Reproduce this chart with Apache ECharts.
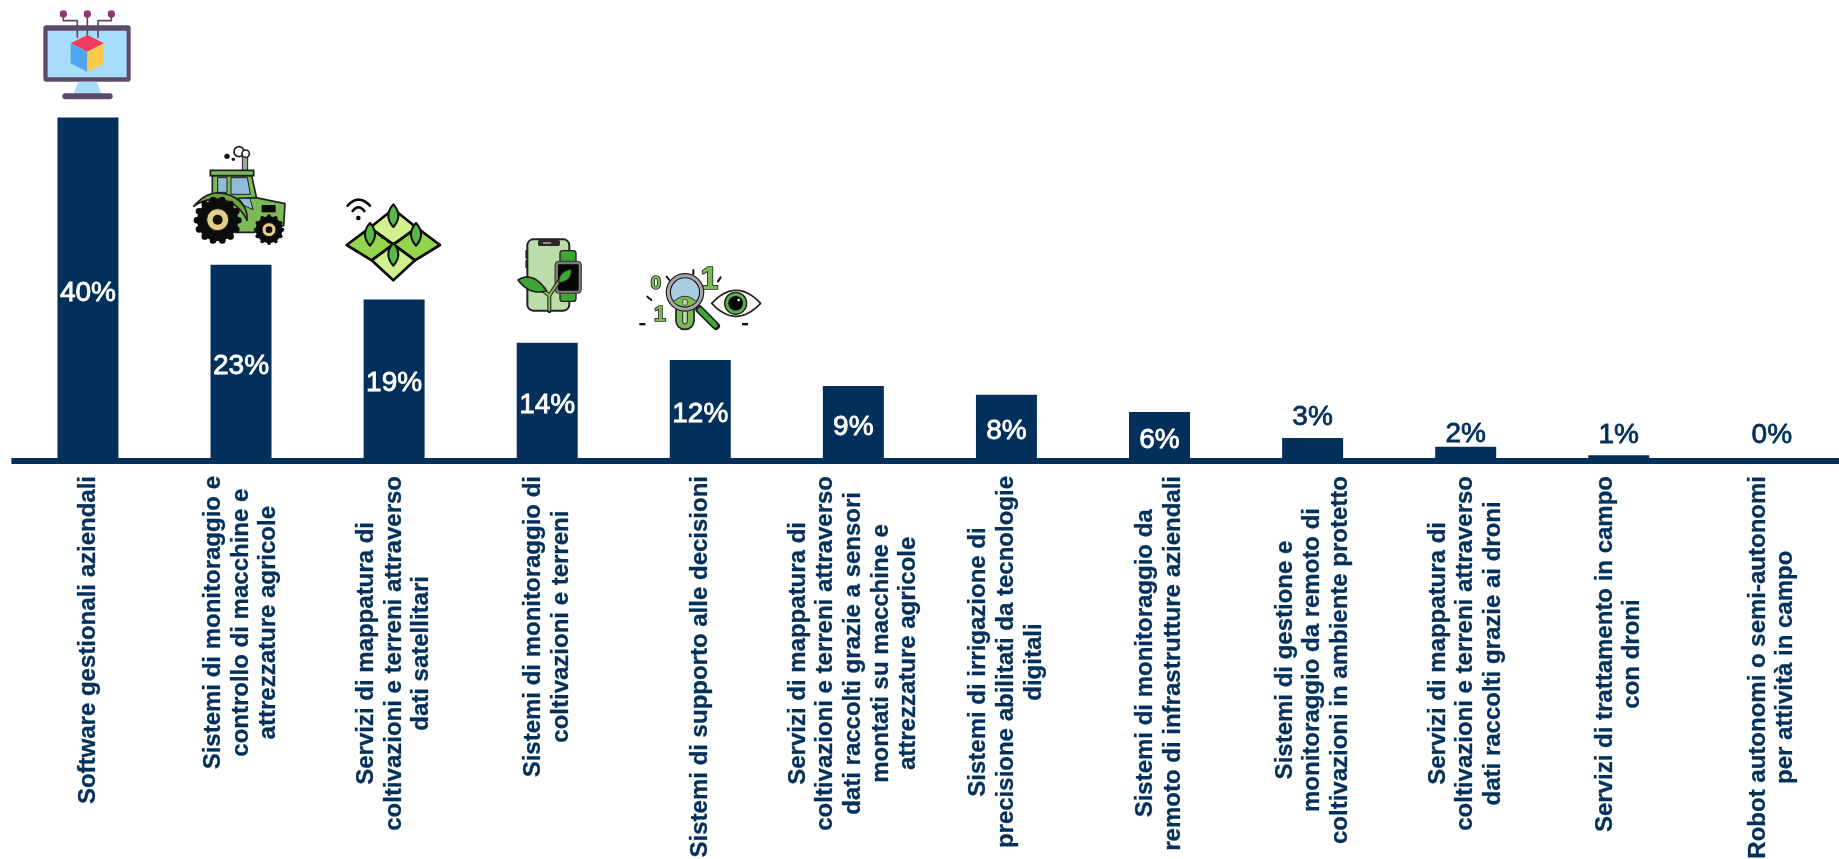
<!DOCTYPE html>
<html lang="it">
<head>
<meta charset="utf-8">
<title>Soluzioni digitali in agricoltura</title>
<style>
  html, body { margin: 0; padding: 0; background: #ffffff; overflow: hidden; }
  #chart { width: 1839px; height: 859px; }
</style>
<script src="https://cdn.jsdelivr.net/npm/echarts@6/dist/echarts.min.js"></script>
</head>
<body>
<div id="chart"></div>
<script>
const categories = [
  "Software gestionali aziendali",
  "Sistemi di monitoraggio e\ncontrollo di macchine e\nattrezzature agricole",
  "Servizi di mappatura di\ncoltivazioni e terreni attraverso\ndati satellitari",
  "Sistemi di monitoraggio di\ncoltivazioni e terreni",
  "Sistemi di supporto alle decisioni",
  "Servizi di mappatura di\ncoltivazioni e terreni attraverso\ndati raccolti grazie a sensori\nmontati su macchine e\nattrezzature agricole",
  "Sistemi di irrigazione di\nprecisione abilitati da tecnologie\ndigitali",
  "Sistemi di monitoraggio da\nremoto di infrastrutture aziendali",
  "Sistemi di gestione e\nmonitoraggio da remoto di\ncoltivazioni in ambiente protetto",
  "Servizi di mappatura di\ncoltivazioni e terreni attraverso\ndati raccolti grazie ai droni",
  "Servizi di trattamento in campo\ncon droni",
  "Robot autonomi o semi-autonomi\nper attività in campo"
];
const values = [40, 23, 19, 14, 12, 9, 8, 6, 3, 2, 1, 0];

const NAVY = '#03305a';
const LINE = '#1f1f24';
const GREEN = '#7cba55';
const LEAF = '#3fa535';
const FONT = '"Liberation Sans", Arial, Helvetica, sans-serif';

// Percentages too small to fit inside their bar sit above it, at these vertical nudges.
const outsideLabelNudge = { 3: -2, 2: 7, 1: -1, 0: -10 };

function barItem(value) {
  const inside = value >= 6;
  return {
    value,
    label: inside
      ? { position: 'inside', color: '#ffffff', textBorderColor: '#ffffff', offset: [0, 2] }
      : { position: 'top', color: NAVY, textBorderColor: NAVY, offset: [0, outsideLabelNudge[value]] }
  };
}

/* Small shape helpers for the pictograms above the first five bars. */
function rect(x1, y1, x2, y2, fill, r, stroke, lw) {
  return { type: 'rect', shape: { x: x1, y: y1, width: x2 - x1, height: y2 - y1, r: r || 0 },
    style: { fill, stroke: stroke || null, lineWidth: lw || 0 } };
}
function circle(cx, cy, r, fill, stroke, lw) {
  return { type: 'circle', shape: { cx, cy, r }, style: { fill, stroke: stroke || null, lineWidth: lw || 0 } };
}
function poly(points, fill, stroke, lw) {
  return { type: 'polygon', shape: { points }, style: { fill, stroke: stroke || null, lineWidth: lw || 0, lineJoin: 'round' } };
}
function wire(points, stroke, lw) {
  return { type: 'polyline', shape: { points }, style: { fill: null, stroke, lineWidth: lw, lineJoin: 'round', lineCap: 'round' } };
}
function glyph(text, x, y, size) {
  return { type: 'text', x, y, style: { text, fontFamily: FONT, fontWeight: 'bold', fontSize: size,
    fill: GREEN, stroke: LINE, lineWidth: 5, align: 'center', verticalAlign: 'middle' } };
}
function qCurve(x0, y0, segs) {
  // Flattens a chain of quadratic segments into polygon points.
  const pts = [[x0, y0]];
  let px = x0, py = y0;
  segs.forEach(function (s) {
    for (let t = 1; t <= 16; t++) {
      const u = t / 16;
      pts.push([(1 - u) * (1 - u) * px + 2 * (1 - u) * u * s[0] + u * u * s[2],
                (1 - u) * (1 - u) * py + 2 * (1 - u) * u * s[1] + u * u * s[3]]);
    }
    px = s[2]; py = s[3];
  });
  return pts;
}
function knobbedWheel(cx, cy, r, knobs, knobR) {
  const parts = [];
  for (let i = 0; i < knobs; i++) {
    const a = i * 2 * Math.PI / knobs;
    parts.push(circle(cx + r * Math.cos(a), cy + r * Math.sin(a), knobR, '#0b0b0b'));
  }
  parts.push(circle(cx, cy, r, '#0b0b0b'));
  return parts;
}
function icon(x, y, children) {
  return { type: 'group', x, y, scaleX: 1 / 3, scaleY: 1 / 3, silent: true, children };
}

const PURPLE = '#5b4b69';
const monitorIcon = icon(30, 0, [
  rect(40, 76, 302, 245, PURPLE, 9),
  rect(53, 92, 290, 232, '#a8dcfb'),
  poly([[145, 245], [200, 245], [216, 284], [130, 284]], '#a8dcfb'),
  rect(97, 280, 248, 298, PURPLE, 9),
  wire([[100, 42], [100, 62], [142, 62], [142, 112]], PURPLE, 5),
  wire([[172, 42], [172, 106]], PURPLE, 5),
  wire([[244, 42], [244, 62], [204, 62], [204, 112]], PURPLE, 5),
  circle(100, 42, 11, '#8a3a6c'), circle(172, 42, 11, '#8a3a6c'), circle(244, 42, 11, '#8a3a6c'),
  poly([[122, 130], [172, 105], [222, 130], [172, 155]], '#f03a5e'),
  poly([[122, 130], [172, 155], [172, 216], [122, 190]], '#4fa6ec'),
  poly([[172, 155], [222, 130], [222, 190], [172, 216]], '#fdca4b')
]);

const tractorIcon = icon(185, 135, [
  circle(126, 64, 8, '#111111'), circle(145, 73, 5, '#111111'),
  rect(172, 62, 188, 108, '#a2a2a2', 0, LINE, 3),
  circle(162, 50, 15, '#ffffff', LINE, 5), circle(182, 56, 11, '#ffffff', LINE, 5),
  poly([[82, 122], [200, 122], [216, 195], [82, 195]], GREEN, LINE, 5),
  rect(76, 106, 206, 122, GREEN, 0, LINE, 5),
  rect(98, 128, 126, 172, '#8ebcd9', 0, LINE, 3),
  poly([[138, 128], [187, 128], [196, 178], [138, 178]], '#8ebcd9', LINE, 3),
  poly([[70, 195], [212, 188], [300, 206], [296, 272], [205, 292], [150, 292]], GREEN, LINE, 5),
  poly([[162, 190], [195, 190], [204, 224], [178, 212]], '#8ebcd9', LINE, 3),
  rect(230, 210, 272, 232, '#0b0b0b'),
  { type: 'polygon', shape: { points: qCurve(26, 214, [[80, 150, 150, 188], [190, 215, 186, 256], [160, 200, 100, 192], [60, 190, 26, 214]]) },
    style: { fill: '#67a83f', stroke: LINE, lineWidth: 5, lineJoin: 'round' } }
].concat(knobbedWheel(98, 256, 62, 14, 10), [
  circle(98, 254, 33, '#e2cf88', '#1a1a1a', 3),
  circle(98, 254, 15, '#111111')
], knobbedWheel(252, 284, 40, 12, 6), [
  circle(252, 284, 21, '#e2cf88', '#1a1a1a', 3),
  circle(252, 284, 10, '#111111')
]));

function leaf(cx, cy) {
  return { type: 'polygon', shape: { points: qCurve(cx, cy - 34, [[cx + 30, cy, cx, cy + 34], [cx - 30, cy, cx, cy - 34]]) },
    style: { fill: '#5ab848', stroke: '#0c0c0c', lineWidth: 6, lineJoin: 'round' } };
}
const fieldIcon = icon(335, 185, [
  wire(qCurve(38, 62, [[70, 26, 105, 62]]), '#0c0c0c', 8),
  wire(qCurve(53, 78, [[70, 56, 88, 78]]), '#0c0c0c', 8),
  circle(70, 99, 7, '#0c0c0c'),
  poly([[105, 128], [175, 178], [110, 226], [35, 180]], '#93d64c', '#0c0c0c', 8),
  poly([[245, 128], [315, 180], [240, 226], [175, 178]], '#93d64c', '#0c0c0c', 8),
  poly([[175, 72], [245, 128], [175, 178], [105, 128]], '#cff28e', '#0c0c0c', 8),
  poly([[175, 178], [240, 226], [175, 286], [110, 226]], '#cff28e', '#0c0c0c', 8),
  leaf(175, 92), leaf(105, 148), leaf(243, 148), leaf(175, 208),
  circle(142, 156, 5, '#0c0c0c'), circle(160, 172, 3, '#0c0c0c')
]);

const phoneIcon = icon(510, 230, [
  rect(46, 60, 56, 86, '#333333', 2), rect(46, 90, 56, 114, '#333333', 2),
  rect(52, 28, 178, 242, '#bcdcaa', 18, '#222222', 6),
  rect(84, 30, 150, 48, '#2a2a2a', 5),
  rect(98, 36, 124, 42, '#8a8a8a', 3),
  rect(150, 62, 198, 100, LEAF, 8, '#222222', 4),
  rect(150, 184, 198, 214, LEAF, 8, '#222222', 4),
  rect(135, 94, 214, 190, '#7b7b7b', 11, '#333333', 3),
  rect(144, 103, 206, 182, '#050505', 4),
  wire([[118, 244], [118, 196], [86, 172]], '#222222', 12),
  wire([[118, 196], [150, 150]], '#222222', 12),
  wire([[118, 240], [118, 196], [90, 175]], '#7cbb4c', 6),
  wire([[118, 196], [148, 153]], '#7cbb4c', 6),
  { type: 'polygon', shape: { points: qCurve(24, 150, [[68, 122, 110, 182], [60, 198, 24, 150]]) },
    style: { fill: LEAF, stroke: '#222222', lineWidth: 5, lineJoin: 'round' } },
  { type: 'polygon', shape: { points: qCurve(146, 158, [[146, 124, 184, 118], [186, 154, 146, 158]]) },
    style: { fill: LEAF, stroke: '#222222', lineWidth: 3, lineJoin: 'round' } }
]);

const dataEyeIcon = icon(630, 260, [
  wire([[110, 50], [118, 60]], '#111111', 6), wire([[190, 30], [190, 42]], '#111111', 6),
  wire([[272, 52], [264, 64]], '#111111', 6), wire([[52, 110], [64, 120]], '#111111', 6),
  rect(28, 189, 46, 196, '#111111'), rect(336, 189, 354, 196, '#111111'),
  glyph('0', 78, 72, 56),
  glyph('1', 238, 62, 96),
  glyph('1', 90, 166, 64),
  rect(138, 118, 192, 208, GREEN, 26, LINE, 5),
  rect(158, 150, 172, 192, '#bcdcaa', 7, LINE, 3),
  wire([[208, 148], [258, 198]], '#1e1e1e', 24),
  wire([[210, 150], [256, 196]], LEAF, 14),
  circle(165, 97, 50, '#a9cde0', '#1e1e1e', 16),
  circle(165, 97, 50, null, '#a7a7a7', 9),
  { type: 'polygon', shape: { points: qCurve(130, 126, [[165, 92, 200, 126], [165, 156, 130, 126]]) },
    style: { fill: GREEN, stroke: LINE, lineWidth: 3 } },
  rect(158, 118, 172, 136, '#bcdcaa', 5, LINE, 2),
  { type: 'polygon', shape: { points: qCurve(245, 130, [[318, 52, 392, 130], [318, 208, 245, 130]]) },
    style: { fill: '#fff6f2', stroke: LINE, lineWidth: 5, lineJoin: 'round' } },
  circle(317, 130, 33, '#55b047', LINE, 4),
  circle(317, 130, 22, '#050505'),
  circle(326, 120, 4, '#ffffff')
]);

const chart = echarts.init(document.getElementById('chart'), null, { renderer: 'canvas' });
chart.setOption({
  animation: false,
  backgroundColor: '#ffffff',
  grid: { left: 11.4, right: -9.4, top: 117.6, bottom: 395, outerBoundsMode: 'none' },
  xAxis: {
    type: 'category',
    data: categories,
    offset: -3,
    axisLine: { onZero: false, lineStyle: { color: NAVY, width: 6, cap: 'butt' } },
    axisTick: { show: false },
    axisLabel: {
      interval: 0,
      rotate: 90,
      margin: 15,
      hideOverlap: false,
      formatter: function (text) {
        return text.split('\n').map(function (line) { return '{c|' + line + '}'; }).join('\n');
      },
      rich: {
        c: {
          align: 'center',
          color: NAVY,
          fontFamily: FONT,
          fontWeight: 'bold',
          fontSize: 24,
          lineHeight: 27.6,
          textBorderColor: NAVY,
          textBorderWidth: 0.3
        }
      }
    }
  },
  yAxis: { type: 'value', min: 0, max: 40, show: false },
  series: [{
    type: 'bar',
    barWidth: 61,
    itemStyle: { color: NAVY },
    z: 1,
    label: {
      show: true,
      fontFamily: FONT,
      fontSize: 28,
      textBorderWidth: 0.8,
      formatter: '{c}%'
    },
    data: values.map(barItem)
  }],
  graphic: { elements: [monitorIcon, tractorIcon, fieldIcon, phoneIcon, dataEyeIcon] }
});
</script>
</body>
</html>
